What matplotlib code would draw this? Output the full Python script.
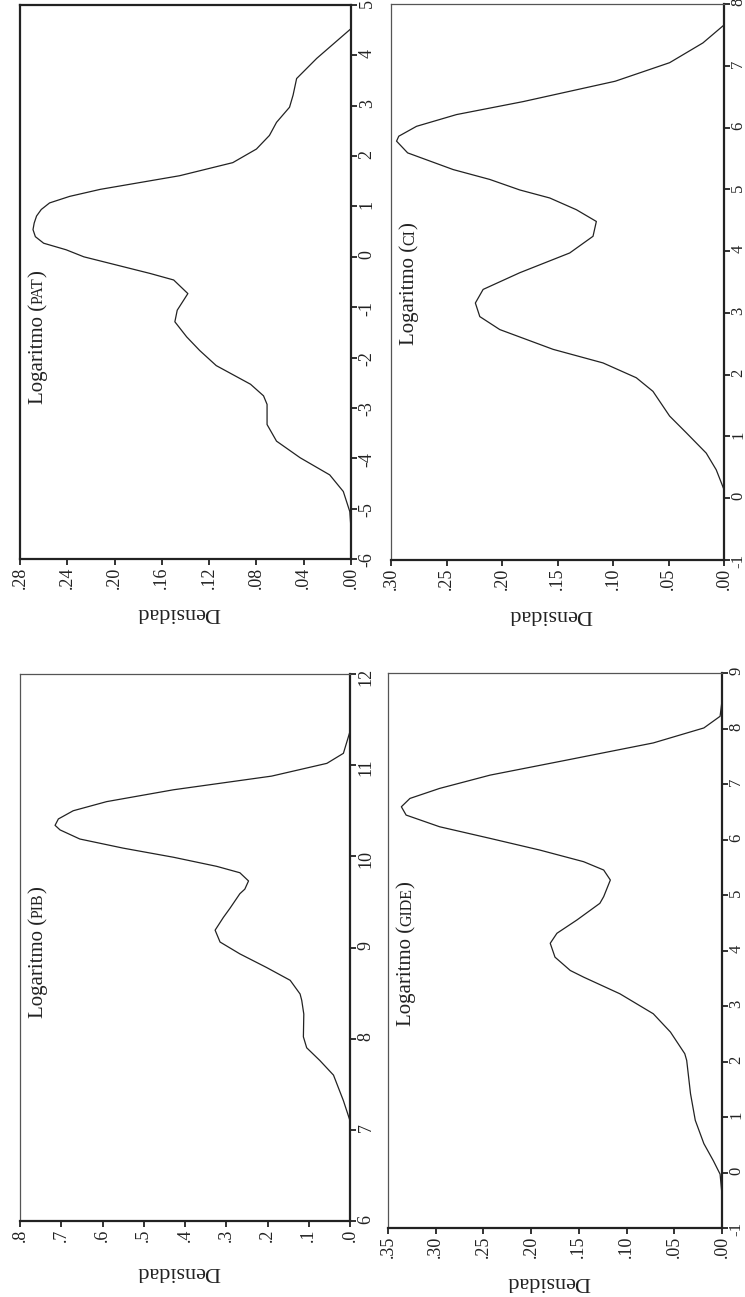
import matplotlib
matplotlib.use("Agg")
import matplotlib.pyplot as plt
from matplotlib.ticker import FixedLocator, FuncFormatter

plt.rcParams["font.family"] = ["Liberation Serif", "DejaVu Serif"]
plt.rcParams["axes.unicode_minus"] = False

# figure is a landscape 2x2 page turned 90 degrees, so density runs right-to-left
# and the log variable runs bottom-to-top

# log(PAT) density (upper left of the turned page)
pat_x = [-5.4, -5.06, -4.66, -4.33, -3.99, -3.66, -3.33, -2.93, -2.76, -2.53,
         -2.16, -1.86, -1.59, -1.29, -1.06, -0.73, -0.46, -0.33, 0.0, 0.14,
         0.27, 0.40, 0.54, 0.67, 0.81, 0.94, 1.07, 1.20, 1.34, 1.61,
         1.87, 2.14, 2.41, 2.67, 2.97, 3.21, 3.54, 3.94, 4.51]
pat_d = [0.0, 0.001, 0.0065, 0.018, 0.043, 0.063, 0.071, 0.071, 0.074, 0.085,
         0.114, 0.128, 0.139, 0.149, 0.147, 0.138, 0.150, 0.170, 0.226, 0.241,
         0.260, 0.267, 0.269, 0.268, 0.266, 0.262, 0.255, 0.238, 0.212, 0.145,
         0.100, 0.080, 0.069, 0.063, 0.052, 0.049, 0.046, 0.029, 0.001]

# log(CI) density
ci_x = [0.14, 0.46, 0.73, 1.06, 1.33, 1.73, 1.95, 2.19, 2.41, 2.73,
        2.94, 3.16, 3.38, 3.65, 3.97, 4.24, 4.48, 4.67, 4.86, 4.99,
        5.16, 5.32, 5.59, 5.78, 5.86, 6.02, 6.21, 6.42, 6.75, 7.05,
        7.37, 7.66]
ci_d = [0.0, 0.007, 0.016, 0.034, 0.049, 0.064, 0.079, 0.109, 0.154, 0.202,
        0.220, 0.224, 0.217, 0.184, 0.139, 0.118, 0.115, 0.133, 0.157, 0.184,
        0.211, 0.244, 0.285, 0.295, 0.293, 0.277, 0.241, 0.181, 0.098, 0.049,
        0.019, 0.0]

# log(PIB) density
pib_x = [7.10, 7.32, 7.60, 7.76, 7.90, 8.02, 8.27, 8.42, 8.49, 8.64,
         8.78, 8.93, 9.06, 9.19, 9.33, 9.43, 9.59, 9.64, 9.73, 9.82,
         9.89, 9.99, 10.09, 10.19, 10.29, 10.34, 10.41, 10.50, 10.60, 10.73,
         10.88, 11.02, 11.13, 11.37]
pib_d = [0.0, 0.016, 0.040, 0.073, 0.105, 0.113, 0.112, 0.117, 0.121, 0.145,
         0.202, 0.267, 0.315, 0.327, 0.307, 0.291, 0.267, 0.255, 0.246, 0.267,
         0.323, 0.428, 0.550, 0.655, 0.703, 0.715, 0.707, 0.671, 0.590, 0.428,
         0.190, 0.056, 0.016, 0.0]

# log(GIDE) density
gide_x = [-0.4, -0.03, 0.21, 0.52, 0.94, 1.42, 2.02, 2.14, 2.53, 2.86,
          3.22, 3.52, 3.64, 3.88, 4.13, 4.31, 4.55, 4.85, 4.97, 5.27,
          5.45, 5.60, 5.81, 6.02, 6.23, 6.44, 6.59, 6.74, 6.92, 7.16,
          7.43, 7.74, 8.01, 8.22, 8.5]
gide_d = [0.0, 0.002, 0.009, 0.019, 0.028, 0.033, 0.037, 0.039, 0.054, 0.072,
          0.107, 0.145, 0.159, 0.175, 0.180, 0.173, 0.152, 0.128, 0.124, 0.117,
          0.124, 0.145, 0.191, 0.243, 0.296, 0.331, 0.336, 0.327, 0.296, 0.243,
          0.163, 0.072, 0.019, 0.002, 0.0]

W, H = 745, 1297

panels = [
    # name, x, d, box (left, top, right, bottom px), dens ticks, decimals, x ticks, label centre y px, densidad y frac, thick frame
    ("PAT", pat_x, pat_d, (20, 5, 351, 559), [i * 0.04 for i in range(8)], 2, list(range(-6, 6)), 337, -0.097, True),
    ("CI", ci_x, ci_d, (391, 4, 724, 560), [i * 0.05 for i in range(7)], 2, list(range(-1, 9)), 284, -0.098, False),
    ("PIB", pib_x, pib_d, (20, 674, 350, 1221), [i * 0.1 for i in range(9)], 1, list(range(6, 13)), 952, -0.093, False),
    ("GIDE", gide_x, gide_d, (388, 673, 722, 1228), [i * 0.05 for i in range(8)], 2, list(range(-1, 10)), 954, -0.097, False),
]

fig = plt.figure(figsize=(W / 100, H / 100), dpi=100)

label_parts = []
for name, xv, dv, box, dticks, nd, xticks, lab_y, dens_y, thick in panels:
    l, t, r, b = box
    ax = fig.add_axes([l / W, 1 - b / H, (r - l) / W, (b - t) / H])
    ax.plot(dv, xv, color="#222222", lw=0.9)
    ax.set_xlim(dticks[-1], 0)
    ax.set_ylim(xticks[0], xticks[-1])

    ax.xaxis.set_major_locator(FixedLocator(dticks))
    ax.xaxis.set_major_formatter(FuncFormatter(lambda v, p, nd=nd: ("%.*f" % (nd, v)).lstrip("0")))
    ax.yaxis.set_major_locator(FixedLocator(xticks))
    ax.yaxis.tick_right()
    ax.tick_params(axis="both", direction="out", length=4, width=1.3, labelsize=13, pad=1.5, colors="#222222")
    if r > 700:
        # right column sits at the page edge, keep its labels inside
        ax.tick_params(axis="y", labelsize=12, pad=0.5)
    ax.tick_params(axis="both", labelrotation=90)

    for s in ["right", "bottom"]:
        ax.spines[s].set_linewidth(1.6)
        ax.spines[s].set_color("#222222")
    for s in ["left", "top"]:
        ax.spines[s].set_linewidth(1.6 if thick else 0.9)
        ax.spines[s].set_color("#222222" if thick else "#555555")

    ax.set_xlabel("Densidad", fontsize=16, rotation=180, color="#222222")
    ax.xaxis.set_label_coords(0.48, dens_y)
    ax.xaxis.label.set_va("center")

    # "Logaritmo (NAME)" with the name in small caps, built from pieces
    parts = []
    for txt, fs in [("Logaritmo (", 15), (name, 11.5), (")", 15)]:
        parts.append(fig.text(0, 0, txt, fontsize=fs, rotation=90, rotation_mode="anchor",
                              ha="left", va="baseline", color="#222222", transform=None))
    label_parts.append((parts, l + 23, H - lab_y))

fig.canvas.draw()
renderer = fig.canvas.get_renderer()
for parts, bx, cy in label_parts:
    lens = [p.get_window_extent(renderer).height for p in parts]
    y0 = cy - sum(lens) / 2
    for p, ln in zip(parts, lens):
        p.set_position((bx, y0))
        y0 += ln

fig.savefig("out.png", dpi=100)
